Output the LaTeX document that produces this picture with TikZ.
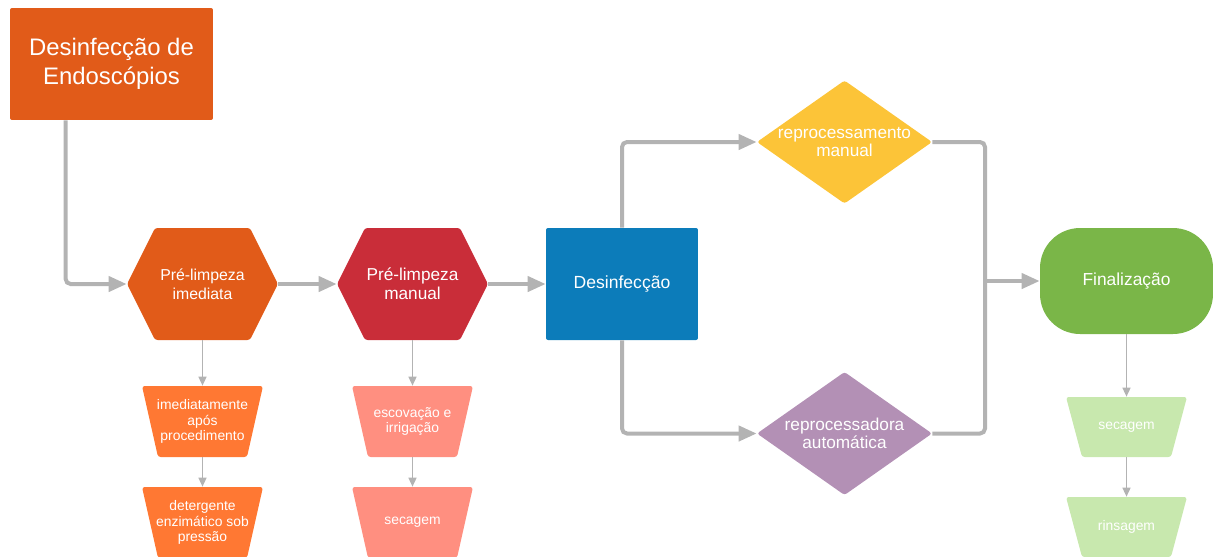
\documentclass[tikz,border=0pt]{standalone}
\usepackage{fontspec}
\setmainfont{Liberation Sans}
\usetikzlibrary{arrows.meta}

\definecolor{laranja}{HTML}{E15B19}
\definecolor{vermelho}{HTML}{C92D39}
\definecolor{azul}{HTML}{0C7CBA}
\definecolor{amarelo}{HTML}{FCC438}
\definecolor{lilas}{HTML}{B390B5}
\definecolor{verde}{HTML}{7AB648}
\definecolor{laranjaclaro}{HTML}{FF7833}
\definecolor{salmao}{HTML}{FF8F80}
\definecolor{verdeclaro}{HTML}{C8E8AE}
\definecolor{cinza}{HTML}{B3B3B3}

\tikzset{
	titulobox/.style={rectangle, fill=laranja, rounded corners=0.04cm, minimum width=4.06cm, minimum height=2.24cm, inner sep=0pt, text=white, align=center, font=\fontsize{13.6}{16.4}\selectfont},
	caixa/.style={rectangle, fill=#1, rounded corners=0.04cm, minimum width=3.04cm, minimum height=2.24cm, inner sep=0pt, text=white, align=center, font=\fontsize{10}{11}\selectfont},
	hexa/.style={rectangle, minimum width=3.02cm, minimum height=2.24cm, inner sep=0pt, text=white, align=center,
		path picture={\fill[#1, rounded corners=1.5pt] (path picture bounding box.west) -- ([xshift=0.56cm]path picture bounding box.north west) -- ([xshift=-0.56cm]path picture bounding box.north east) -- (path picture bounding box.east) -- ([xshift=-0.56cm]path picture bounding box.south east) -- ([xshift=0.56cm]path picture bounding box.south west) -- cycle;}},
	losango/.style={rectangle, minimum width=3.5cm, minimum height=2.46cm, inner sep=0pt, text=white, align=center, font=\fontsize{9.8}{10.6}\selectfont,
		path picture={\fill[#1, rounded corners=1.5pt] (path picture bounding box.west) -- (path picture bounding box.north) -- (path picture bounding box.east) -- (path picture bounding box.south) -- cycle;}},
	trapezio/.style={rectangle, minimum width=2.42cm, minimum height=1.42cm, inner sep=0pt, text=white, align=center, font=\fontsize{7.9}{8.8}\selectfont,
		path picture={\fill[#1, rounded corners=1.5pt] (path picture bounding box.north west) -- (path picture bounding box.north east) -- ([xshift=-0.32cm]path picture bounding box.south east) -- ([xshift=0.32cm]path picture bounding box.south west) -- cycle;}},
	conn/.style={draw=cinza, line width=0.08cm, rounded corners=0.1cm, -{Triangle[length=0.36cm,width=0.3cm]}},
	juncao/.style={draw=cinza, line width=0.08cm, rounded corners=0.1cm},
	fino/.style={draw=cinza, line width=0.03cm, -{Triangle[length=0.18cm,width=0.16cm]}}
}

\begin{document}
\begin{tikzpicture}[x=0.02cm,y=-0.02cm]
		\clip (0,0) rectangle (1213,556);
		
		% etapas principais
		\node[titulobox] (titulo) at (111.5,64) {Desinfecção de\\Endoscópios};
		\node[hexa=laranja, font=\fontsize{9}{10.8}\selectfont] (imediata) at (202.5,284) {Pré-limpeza\\imediata};
		\node[hexa=vermelho, font=\fontsize{9.8}{10.8}\selectfont] (manual) at (412.5,284) {Pré-limpeza\\manual};
		\node[caixa=azul] (desinf) at (622,284) {Desinfecção};
		\node[losango=amarelo] (repman) at (844.5,142) {reprocessamento\\manual};
		\node[losango=lilas] (repaut) at (844.5,433.5) {reprocessadora\\automática};
		\node[rectangle, fill=verde, rounded corners=0.8cm, minimum width=3.46cm, minimum height=2.12cm, text=white, font=\fontsize{9.9}{11}\selectfont] (final) at (1126.5,281) {Finalização};
		
		% sub-etapas
		\node[trapezio=laranjaclaro] (imed1) at (202.5,421.5) {imediatamente\\após\\procedimento};
		\node[trapezio=laranjaclaro] (imed2) at (202.5,522.5) {detergente\\enzimático sob\\pressão};
		\node[trapezio=salmao] (man1) at (412.5,421.5) {escovação e\\irrigação};
		\node[trapezio=salmao] (man2) at (412.5,522.5) {secagem};
		\node[trapezio=verdeclaro, minimum height=1.2cm] (fin1) at (1126.5,427) {secagem};
		\node[trapezio=verdeclaro, minimum height=1.2cm] (fin2) at (1126.5,527) {rinsagem};
		
		\coordinate (junta) at (985,281);
		
		% ligacoes
		\draw[conn] ([xshift=1.12cm]titulo.south west) |- (imediata.west);
		\draw[conn] (imediata.east) -- (manual.west);
		\draw[conn] (manual.east) -- (desinf.west);
		\draw[conn] (desinf.north) |- (repman.west);
		\draw[conn] (desinf.south) |- (repaut.west);
		\draw[juncao] (repman.east) -| (junta) |- (repaut.east);
		\draw[conn] (junta) -- (final.west);
		
		\draw[fino] (imediata.south) -- (imed1.north);
		\draw[fino] (imed1.south) -- (imed2.north);
		\draw[fino] (manual.south) -- (man1.north);
		\draw[fino] (man1.south) -- (man2.north);
		\draw[fino] (final.south) -- (fin1.north);
		\draw[fino] (fin1.south) -- (fin2.north);
\end{tikzpicture}
\end{document}
